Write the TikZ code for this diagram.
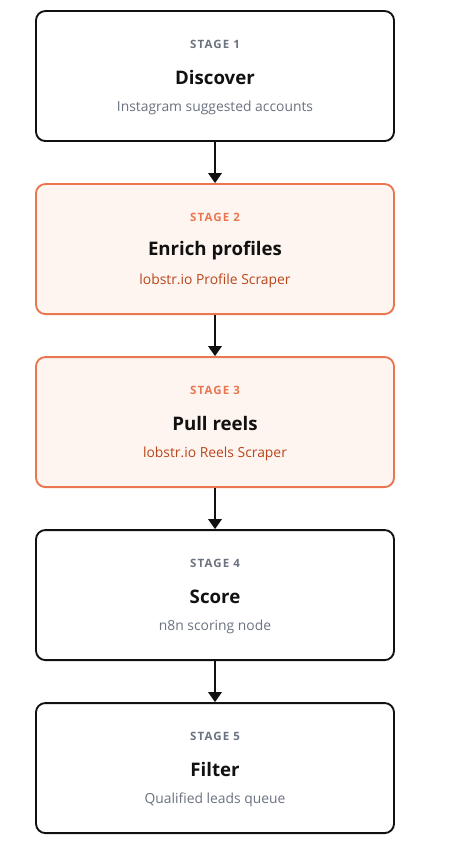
\documentclass[tikz,border=0pt]{standalone}
\usepackage{fontspec}
\setmainfont{Open Sans}
\newfontfamily\stagefont[LetterSpace=10]{Open Sans}
\usetikzlibrary{positioning, arrows.meta}

\definecolor{inkblack}{HTML}{111111}
\definecolor{greytext}{HTML}{6B7280}
\definecolor{orangeline}{HTML}{EA7650}
\definecolor{orangefill}{HTML}{FFF5F0}
\definecolor{orangetext}{HTML}{B8461B}

\tikzstyle{stagenode} = [rectangle, rounded corners=7pt,
minimum width=268.5pt,
minimum height=97.5pt,
line width=1.4pt,
draw=inkblack, fill=white]
\tikzstyle{hotnode} = [stagenode, draw=orangeline, fill=orangefill]
\tikzstyle{tagtext} = [font=\stagefont\bfseries\fontsize{8.6}{10}\selectfont, text=greytext]
\tikzstyle{titletext} = [font=\bfseries\fontsize{14}{16}\selectfont, text=inkblack]
\tikzstyle{subtext} = [font=\fontsize{10.4}{12}\selectfont, text=greytext]
\tikzstyle{arrow} = [line width=1.6pt, -{Triangle[width=10pt,length=7.5pt]}, draw=inkblack]

\begin{document}
\begin{tikzpicture}[node distance=30.85pt]

\useasboundingbox (0,0) rectangle (344.25pt,-644.25pt);

\node (discover) [stagenode, anchor=north] at (161.25pt,-7.6pt) {};

\node (enrich) [hotnode, below=of discover] {};

\node (reels) [hotnode, below=of enrich] {};

\node (score) [stagenode, below=of reels] {};

\node (filter) [stagenode, below=of score] {};

% texts inside the boxes
\node (discovertag) [tagtext] at ([yshift=23.5pt]discover.center) {STAGE 1};
\node (discovertitle) [titletext] at ([yshift=-1pt]discover.center) {Discover};
\node (discoversub) [subtext] at ([yshift=-24.2pt]discover.center) {Instagram suggested accounts};

\node (enrichtag) [tagtext, text=orangeline] at ([yshift=23.5pt]enrich.center) {STAGE 2};
\node (enrichtitle) [titletext] at ([yshift=-1pt]enrich.center) {Enrich profiles};
\node (enrichsub) [subtext, text=orangetext] at ([yshift=-24.2pt]enrich.center) {lobstr.io Profile Scraper};

\node (reelstag) [tagtext, text=orangeline] at ([yshift=23.5pt]reels.center) {STAGE 3};
\node (reelstitle) [titletext] at ([yshift=-1pt]reels.center) {Pull reels};
\node (reelssub) [subtext, text=orangetext] at ([yshift=-24.2pt]reels.center) {lobstr.io Reels Scraper};

\node (scoretag) [tagtext] at ([yshift=23.5pt]score.center) {STAGE 4};
\node (scoretitle) [titletext] at ([yshift=-1pt]score.center) {Score};
\node (scoresub) [subtext] at ([yshift=-24.2pt]score.center) {n8n scoring node};

\node (filtertag) [tagtext] at ([yshift=23.5pt]filter.center) {STAGE 5};
\node (filtertitle) [titletext] at ([yshift=-1pt]filter.center) {Filter};
\node (filtersub) [subtext] at ([yshift=-24.2pt]filter.center) {Qualified leads queue};

\draw [arrow] (discover) -- (enrich);

\draw [arrow] (enrich) -- (reels);

\draw [arrow] (reels) -- (score);

\draw [arrow] (score) -- (filter);

\end{tikzpicture}
\end{document}
